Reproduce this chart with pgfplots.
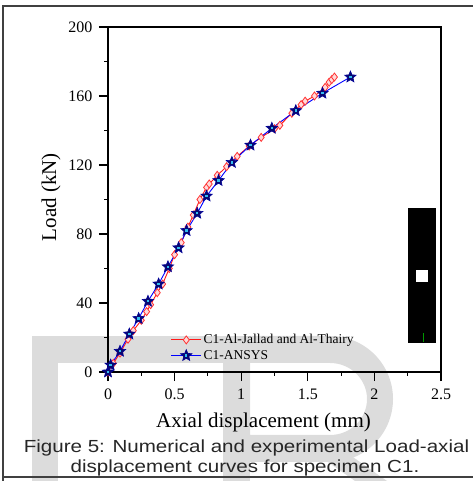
\documentclass[border=0pt]{standalone}
\usepackage{fontspec}
\setmainfont{Liberation Serif}
\newfontfamily\capfont{Liberation Sans}
\usepackage{pgfplots}
\pgfplotsset{compat=1.18}
\usetikzlibrary{plotmarks}
\definecolor{wm}{HTML}{DCDCDC}
\definecolor{navystar}{HTML}{0A0A6E}

\pgfdeclareplotmark{cstar}{%
  \pgfpathmoveto{\pgfpointpolar{90}{\pgfplotmarksize}}%
  \pgfpathlineto{\pgfpointpolar{126}{0.45\pgfplotmarksize}}%
  \pgfpathlineto{\pgfpointpolar{162}{\pgfplotmarksize}}%
  \pgfpathlineto{\pgfpointpolar{198}{0.45\pgfplotmarksize}}%
  \pgfpathlineto{\pgfpointpolar{234}{\pgfplotmarksize}}%
  \pgfpathlineto{\pgfpointpolar{270}{0.45\pgfplotmarksize}}%
  \pgfpathlineto{\pgfpointpolar{306}{\pgfplotmarksize}}%
  \pgfpathlineto{\pgfpointpolar{342}{0.45\pgfplotmarksize}}%
  \pgfpathlineto{\pgfpointpolar{18}{\pgfplotmarksize}}%
  \pgfpathlineto{\pgfpointpolar{54}{0.45\pgfplotmarksize}}%
  \pgfpathclose
  \pgfusepathqfillstroke
  \begin{pgfscope}%
  \pgfsetfillcolor{cyan!80!white}%
  \pgfpathrectangle{\pgfpoint{-0.2\pgfplotmarksize}{-0.2\pgfplotmarksize}}{\pgfpoint{0.4\pgfplotmarksize}{0.4\pgfplotmarksize}}%
  \pgfusepathqfill
  \end{pgfscope}%
}

\pgfplotstableread{
x y
0 0
0.04 5
0.09 11
0.15 19
0.19 24
0.25 30
0.29 35
0.32 39
0.37 46
0.41 51
0.46 60
0.50 68
0.55 75
0.60 84
0.64 91
0.69 100
0.74 107
0.76 109
0.82 114
0.89 119
0.97 125
1.06 131
1.15 136
1.25 141
1.29 143
1.38 150
1.45 155
1.48 157
1.55 160
1.63 165
1.66 168
1.68 169.5
1.70 171
}\expdata

\pgfplotstableread{
x y
0 0
0.02 4
0.09 12
0.16 22
0.23 31
0.30 41
0.38 51
0.45 61
0.53 72
0.59 82
0.67 92
0.74 102
0.83 111
0.93 121.5
1.07 131.5
1.23 141.3
1.41 151.5
1.61 161.6
1.82 171
}\ansysdata

\begin{document}
\begin{tikzpicture}
\useasboundingbox (0,0) rectangle (473pt,481pt);
% watermark and decorations in pixel coordinates (y downward)
\begin{scope}[x=1pt,y=-1pt,yshift=481pt]
  \fill[wm] (32,336) rectangle (58,481);
  \fill[wm] (32,336) rectangle (330,363);
  \fill[wm] (223,336) rectangle (250,481);
  \fill[wm,even odd rule] (330,336) arc[start angle=-90,end angle=90,radius=63] -- (250,462) -- (250,336) -- cycle
        (330,363) arc[start angle=-90,end angle=90,x radius=37,y radius=36] -- (250,435) -- (250,363) -- cycle;
  \fill[wm] (318,455) -- (350,455) -- (387,481) -- (355,481) -- cycle;
  % outer frame
  \draw[black!75,line width=1.6pt] (3,481) -- (3,6) -- (473,6);
  \draw[black!75,line width=1.6pt] (3,477) -- (473,477);
  % black box
  \fill[black] (407.7,208) rectangle (435.7,343);
  \fill[white] (415.7,270) rectangle (428.3,281.7);
  \draw[green!60!black,line width=0.8pt] (423,333) -- (423,342);
  % caption
  \node[font=\capfont\fontsize{17.5}{20}\selectfont,text=black!85,inner sep=0pt] at (246.5,448) {\scalebox{1.175}[1]{Figure 5: Numerical and experimental Load-axial}};
  \node[font=\capfont\fontsize{17.5}{20}\selectfont,text=black!85,inner sep=0pt] at (245,468) {\scalebox{1.175}[1]{displacement curves for specimen C1.}};
\end{scope}
\begin{axis}[
  at={(108pt,109pt)}, anchor=south west,
  scale only axis, width=333pt, height=345pt,
  xmin=0, xmax=2.5, ymin=0, ymax=200,
  xtick={0,0.5,...,2.5}, ytick={0,40,...,200},
  minor x tick num=1, minor y tick num=1,
  tick align=outside, xtick pos=left, ytick pos=left,
  major tick length=9pt, minor tick length=4pt,
  axis line style={line width=1.3pt},
  every tick/.style={line width=1.1pt, black},
  clip=false,
  /pgf/number format/assume math mode=true,
  ticklabel style={font=\fontsize{16}{16}\selectfont},
  xticklabel style={yshift=-4pt},
  yticklabel style={xshift=-3pt},
  xlabel={Axial displacement (mm)},
  ylabel={Load (kN)},
  label style={font=\fontsize{21}{21}\selectfont},
  xlabel style={at={(axis description cs:0.467,-0.145)}, anchor=center},
  ylabel style={at={(axis description cs:-0.171,0.507)}, anchor=center, rotate=0},
  legend style={at={(axis description cs:0.185,0.118)}, anchor=north west, draw=none, fill=none,
     font=\fontsize{13.5}{14}\selectfont, inner sep=1pt, row sep=1pt},
  legend cell align=left,
  legend image code/.code={\draw[mark repeat=2,mark phase=2,#1] plot coordinates {(0pt,0pt) (15pt,0pt) (30pt,0pt)};},
]
\addplot[red!90, line width=0.9pt, mark=diamond*, mark size=4pt, mark options={draw=red!80, fill=red!15, line width=0.8pt}] table[x=x,y=y] {\expdata};
\addlegendentry{C1-Al-Jallad and Al-Thairy}
\addplot[blue, line width=0.9pt, mark=cstar, mark size=6pt, mark options={draw=blue!60!black, fill=navystar, line width=0.6pt}] table[x=x,y=y] {\ansysdata};
\addlegendentry{C1-ANSYS}
\end{axis}
\end{tikzpicture}
\end{document}
